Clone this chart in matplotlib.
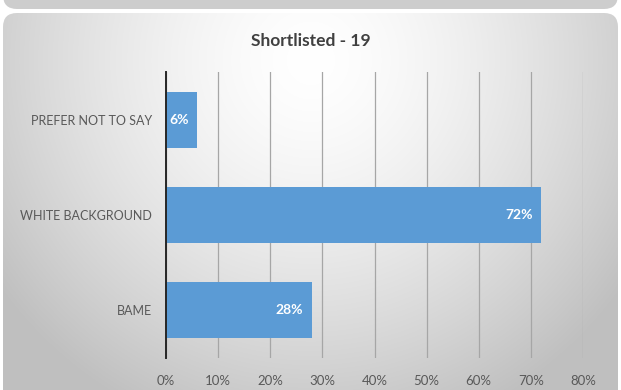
import numpy as np
import matplotlib
matplotlib.use("Agg")
import matplotlib.pyplot as plt
from matplotlib.patches import FancyBboxPatch

categories = ["BAME", "WHITE BACKGROUND", "PREFER NOT TO SAY"]
values = [0.28, 0.72, 0.06]
tick_vals = [0, 0.1, 0.2, 0.3, 0.4, 0.5, 0.6, 0.7, 0.8]
tick_labels = ["0%", "10%", "20%", "30%", "40%", "50%", "60%", "70%", "80%"]
title = "Shortlisted - 19"

plt.rcParams['font.family'] = ['Lato', 'DejaVu Sans']

W, H = 621, 390
fig = plt.figure(figsize=(W / 100, H / 100), dpi=100)
fig.patch.set_facecolor("white")

# background canvas
bg = fig.add_axes([0, 0, 1, 1], zorder=0)
bg.set_xlim(0, W)
bg.set_ylim(H, 0)
bg.axis("off")

# top panel strip (previous chart)
top = FancyBboxPatch((3, -40), W - 6, 49, boxstyle="round,pad=0,rounding_size=14",
                     facecolor="#cdcdcd", edgecolor="none")
bg.add_patch(top)

panel = FancyBboxPatch((3, 13), W - 6, H + 20, boxstyle="round,pad=0,rounding_size=14",
                       facecolor="none", edgecolor="none")
bg.add_patch(panel)
yy, xx = np.mgrid[0:H, 0:W]
cx, cy = W * 0.5, 60
d = np.sqrt(((xx - cx) / (W * 0.62)) ** 2 + ((yy - cy) / (H * 1.0)) ** 2)
d = np.clip(d, 0, 1)
g = 1.0 - 0.25 * d ** 1.5
img = bg.imshow(np.dstack([g, g, g]), extent=(0, W, H, 0), zorder=1)
img.set_clip_path(panel)

bg.text(W / 2, 41, title, ha="center", va="center", fontsize=12.5,
        fontweight="bold", color="#404040", zorder=3)

ax = fig.add_axes([166 / W, 32 / H, (583 - 166) / W, (358 - 72) / H], zorder=2)
ax.patch.set_alpha(0)
y = np.arange(len(categories))
bars = ax.barh(y, values, height=0.59, color="#5b9bd5", zorder=3)
ax.set_xlim(0, 0.8)
ax.set_ylim(-0.5, 2.5)
ax.set_xticks(tick_vals)
ax.set_xticklabels(tick_labels)
ax.set_yticks(y)
ax.set_yticklabels(categories)
ax.tick_params(axis="both", length=0, labelsize=9, colors="#595959")
ax.tick_params(axis="x", pad=12, labelsize=9.5)
ax.tick_params(axis="y", pad=10)
ax.grid(axis="x", color="#a6a6a6", linewidth=0.9, zorder=1)
for s in ["top", "right", "bottom"]:
    ax.spines[s].set_visible(False)
ax.spines["left"].set_color("#262626")
ax.spines["left"].set_linewidth(1.4)
ax.spines["left"].set_zorder(4)

for v, yi in zip(values, y):
    ax.text(v - 0.017, yi, f"{round(v * 100)}%", ha="right", va="center",
            color="white", fontweight="bold", fontsize=10, zorder=4)

fig.savefig("out.png", dpi=100)
